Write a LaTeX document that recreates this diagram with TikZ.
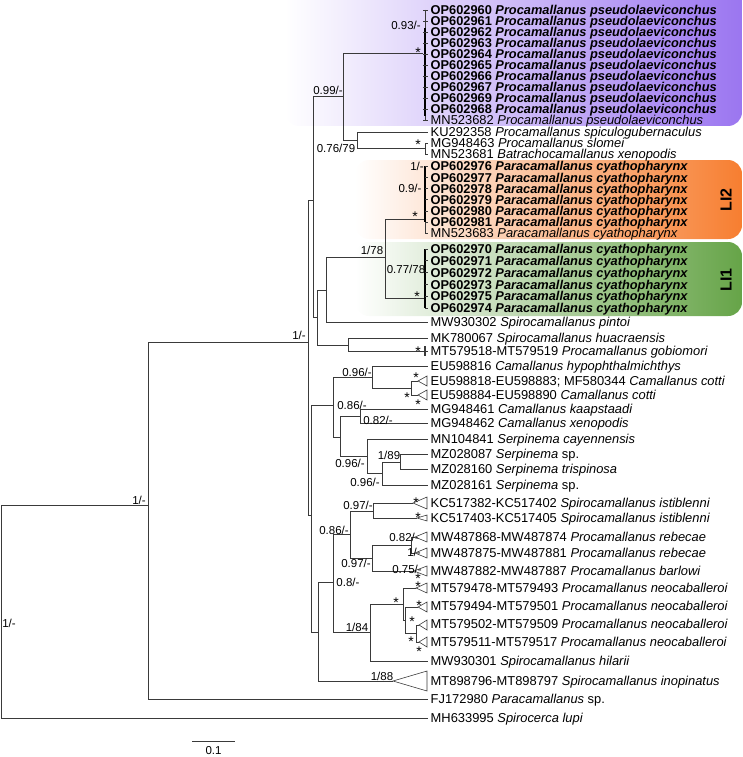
\documentclass[tikz,border=0pt]{standalone}
\usepackage{fontspec}
\setmainfont{Liberation Sans}
\usepackage{xcolor}
\usepackage{tikz}
\definecolor{purp}{RGB}{155,118,240}
\definecolor{orng}{RGB}{247,126,48}
\definecolor{grn}{RGB}{102,164,72}
\definecolor{branch}{RGB}{58,58,58}

\begin{document}
\begin{tikzpicture}[x=1pt,y=-1pt,
  br/.style={draw=branch,line width=0.85pt},
  bar/.style={draw=black,line width=2.4pt},
  tip/.style={anchor=west,inner xsep=2.5pt,inner ysep=0pt,text height=9.2pt,text depth=0pt,font=\fontsize{12.9}{13}\selectfont},
  tipb/.style={tip,font=\fontsize{12.8}{13}\selectfont\bfseries},
  sup/.style={inner sep=0pt,font=\fontsize{11.5}{12}\selectfont},
  ast/.style={inner sep=0pt,yshift=-1.5pt,font=\fontsize{14}{14}\selectfont},
  band/.style={rounded corners=14pt,left color=white},
  lilab/.style={rotate=90,inner sep=0pt,font=\fontsize{16}{16}\selectfont\bfseries}]
\useasboundingbox (0,0) rectangle (742,757);

% coloured bands
\shade[band,right color=purp] (285,-14) rectangle (742,126);
\shade[band,right color=orng] (355,160) rectangle (742,239);
\shade[band,right color=grn] (355,242) rectangle (742,316);
\node[lilab] (li2) at (726,200) {LI2};
\node[lilab] (li1) at (726,280) {LI1};

% internal nodes
\coordinate (root) at (1,612);
\coordinate (nA) at (148,505);
\coordinate (nB) at (308,342);
\coordinate (nC) at (313,200);
\coordinate (nP) at (343,96);
\coordinate (nQ) at (423,53);
\coordinate (nK) at (357,140);
\coordinate (nM) at (425,148);
\coordinate (nD) at (317,317);
\coordinate (nE) at (326,290);
\coordinate (nL) at (385,257);
\coordinate (nL2) at (425,219);
\coordinate (nL1) at (425,298);
\coordinate (nH) at (348,345);
\coordinate (nG) at (425,351);
\coordinate (nF) at (311,515);
\coordinate (nS) at (333,405);
\coordinate (nT) at (372,377);
\coordinate (nU) at (411,388);
\coordinate (nV) at (340,437);
\coordinate (nW) at (360,416);
\coordinate (nX) at (367,456);
\coordinate (nY) at (382,473);
\coordinate (nZ) at (400,462);
\coordinate (nO) at (318,632);
\coordinate (nR) at (333,582);
\coordinate (nI) at (350,534);
\coordinate (nJ) at (373,511);
\coordinate (nN) at (372,558);
\coordinate (nRb) at (411,545);
\coordinate (nCa) at (370,632);
\coordinate (nCb) at (403,604);
\coordinate (nCc) at (405,620);
\coordinate (nCd) at (416,633);
% apices of collapsed clades
\coordinate (cot1) at (418,381);
\coordinate (cot2) at (418,395);
\coordinate (ist1) at (413,503);
\coordinate (ist2) at (417,518);
\coordinate (reb1) at (415,537);
\coordinate (reb2) at (415,553);
\coordinate (barl) at (414,571);
\coordinate (neo1) at (416,588);
\coordinate (neo2) at (418,607);
\coordinate (neo3) at (419,625);
\coordinate (neo4) at (419,642);
\coordinate (inop) at (393,681);

% tips
\foreach \acc [count=\k] in {OP602960,OP602961,OP602962,OP602963,OP602964,OP602965,OP602966,OP602967,OP602969,OP602968}
  \node[tipb] (p\k) at (428,{11*\k-1}) {\acc\ \textit{Procamallanus pseudolaeviconchus}};
\node[tip] (tPs) at (428,120) {MN523682 \textit{Procamallanus pseudolaeviconchus}};
\node[tip] (tSpi) at (428,132) {KU292358 \textit{Procamallanus spiculogubernaculus}};
\node[tip] (tSlo) at (428,143) {MG948463 \textit{Procamallanus slomei}};
\node[tip] (tBat) at (428,154) {MN523681 \textit{Batrachocamallanus xenopodis}};
\foreach \acc [count=\k] in {OP602976,OP602977,OP602978,OP602979,OP602980,OP602981}
  \node[tipb] (c\k) at (428,{155+11.2*\k}) {\acc\ \textit{Paracamallanus cyathopharynx}};
\node[tip] (tCy) at (428,233) {MN523683 \textit{Paracamallanus cyathopharynx}};
\foreach \acc [count=\k] in {OP602970,OP602971,OP602972,OP602973,OP602975,OP602974}
  \node[tipb] (d\k) at (428,{237.2+11.8*\k}) {\acc\ \textit{Paracamallanus cyathopharynx}};
\node[tip] (tPin) at (428,322) {MW930302 \textit{Spirocamallanus pintoi}};
\node[tip] (tHua) at (428,338) {MK780067 \textit{Spirocamallanus huacraensis}};
\node[tip] (tGob) at (428,351) {MT579518-MT579519 \textit{Procamallanus gobiomori}};
\node[tip] (tHyp) at (428,366) {EU598816 \textit{Camallanus hypophthalmichthys}};
\node[tip] (tCo1) at (428,381) {EU598818-EU598883; MF580344 \textit{Camallanus cotti}};
\node[tip] (tCo2) at (428,395) {EU598884-EU598890 \textit{Camallanus cotti}};
\node[tip] (tKaa) at (428,409) {MG948461 \textit{Camallanus kaapstaadi}};
\node[tip] (tXen) at (428,423) {MG948462 \textit{Camallanus xenopodis}};
\node[tip] (tCay) at (428,439) {MN104841 \textit{Serpinema cayennensis}};
\node[tip] (tSe1) at (428,454) {MZ028087 \textit{Serpinema} sp.};
\node[tip] (tTri) at (428,469) {MZ028160 \textit{Serpinema trispinosa}};
\node[tip] (tSe2) at (428,485) {MZ028161 \textit{Serpinema} sp.};
\node[tip] (tIs1) at (428,503) {KC517382-KC517402 \textit{Spirocamallanus istiblenni}};
\node[tip] (tIs2) at (428,518) {KC517403-KC517405 \textit{Spirocamallanus istiblenni}};
\node[tip] (tRe1) at (428,537) {MW487868-MW487874 \textit{Procamallanus rebecae}};
\node[tip] (tRe2) at (428,553) {MW487875-MW487881 \textit{Procamallanus rebecae}};
\node[tip] (tBar) at (428,571) {MW487882-MW487887 \textit{Procamallanus barlowi}};
\node[tip] (tNe1) at (428,588) {MT579478-MT579493 \textit{Procamallanus neocaballeroi}};
\node[tip] (tNe2) at (428,606) {MT579494-MT579501 \textit{Procamallanus neocaballeroi}};
\node[tip] (tNe3) at (428,624) {MT579502-MT579509 \textit{Procamallanus neocaballeroi}};
\node[tip] (tNe4) at (428,642) {MT579511-MT579517 \textit{Procamallanus neocaballeroi}};
\node[tip] (tHil) at (428,661) {MW930301 \textit{Spirocamallanus hilarii}};
\node[tip] (tIno) at (428,681) {MT898796-MT898797 \textit{Spirocamallanus inopinatus}};
\node[tip] (tPar) at (428,699) {FJ172980 \textit{Paracamallanus} sp.};
\node[tip] (tLup) at (428,718) {MH633995 \textit{Spirocerca lupi}};

% branches
\draw[br] (root) |- (nA);
\draw[br] (root) |- (tLup.west);
\draw[br] (nA) |- (nB);
\draw[br] (nA) |- (tPar.west);
\draw[br] (nB) |- (nC);
\draw[br] (nB) |- (nF);
\draw[br] (nC) |- (nP);
\draw[br] (nC) |- (nD);
\draw[br] (nP) |- (nQ);
\draw[br] (nP) |- (nK);
\draw[br] (nK) |- (tSpi.west);
\draw[br] (nK) |- (nM);
\draw[br] (nM) |- (tSlo.west);
\draw[br] (nM) |- (tBat.west);
\draw[br] (nD) |- (nE);
\draw[br] (nD) |- (nH);
\draw[br] (nE) |- (nL);
\draw[br] (nE) |- (tPin.west);
\draw[br] (nL) |- (nL2);
\draw[br] (nL) |- (nL1);
\draw[br] (nH) |- (tHua.west);
\draw[br] (nH) |- (nG);
\draw[br] (nG) -- (tGob.west);
\draw[br] (nF) |- (nS);
\draw[br] (nF) |- (nO);
\draw[br] (nS) |- (nT);
\draw[br] (nS) |- (nV);
\draw[br] (nT) |- (tHyp.west);
\draw[br] (nT) |- (nU);
\draw[br] (nU) |- (cot1);
\draw[br] (nU) |- (cot2);
\draw[br] (nV) |- (nW);
\draw[br] (nV) |- (nX);
\draw[br] (nW) |- (tKaa.west);
\draw[br] (nW) |- (tXen.west);
\draw[br] (nX) |- (tCay.west);
\draw[br] (nX) |- (nY);
\draw[br] (nY) |- (nZ);
\draw[br] (nY) |- (tSe2.west);
\draw[br] (nZ) |- (tSe1.west);
\draw[br] (nZ) |- (tTri.west);
\draw[br] (nO) |- (nR);
\draw[br] (nO) |- (inop);
\draw[br] (nR) |- (nI);
\draw[br] (nR) |- (nCa);
\draw[br] (nI) |- (nJ);
\draw[br] (nI) |- (nN);
\draw[br] (nJ) |- (ist1);
\draw[br] (nJ) |- (ist2);
\draw[br] (nN) |- (nRb);
\draw[br] (nN) |- (barl);
\draw[br] (nRb) |- (reb1);
\draw[br] (nRb) |- (reb2);
\draw[br] (nCa) |- (nCb);
\draw[br] (nCa) |- (tHil.west);
\draw[br] (nCb) |- (neo1);
\draw[br] (nCb) |- (nCc);
\draw[br] (nCc) |- (neo2);
\draw[br] (nCc) |- (nCd);
\draw[br] (nCd) |- (neo3);
\draw[br] (nCd) |- (neo4);

% collapsed clades
\foreach \c/\w/\h in {cot1/9/5,cot2/9/5,ist1/14/6,ist2/10/3,reb1/12/5,reb2/12/5,barl/13/5,neo1/11/5,neo2/9/5,neo3/8/5,neo4/8/5,inop/34/10}
  \draw[br,line width=0.6pt] (\c) -- ++(\w,-\h) -- ++(0,2*\h) -- cycle;

% fine tips
\draw[br] (425,10) -- (425,120);
\draw[bar] (425,28) -- (425,116);
\foreach \k in {1,...,10} \draw[br] (nQ |- p\k.west) -- (p\k.west);
\draw[br] (nQ |- tPs.west) -- (tPs.west);
\draw[br] (425,166) -- (425,233);
\draw[bar] (425,166) -- (425,222);
\foreach \k in {1,...,6} \draw[br] (nL2 |- c\k.west) -- (c\k.west);
\draw[br] (nL2 |- tCy.west) -- (tCy.west);
\draw[bar] (425,249) -- (425,308);
\foreach \k in {1,...,6} \draw[br] (nL1 |- d\k.west) -- (d\k.west);
\draw[br,line width=1.4pt] (425,346) -- (425,356);

% support values
\node[sup] (s1) at (406,25) {0.93/-};
\node[ast] (s2) at (418,51) {*};
\node[sup] (s3) at (328,90) {0.99/-};
\node[sup] (s4) at (336,148) {0.76/79};
\node[ast] (s5) at (418,143) {*};
\node[sup] (s6) at (417,166) {1/-};
\node[sup] (s7) at (410,188) {0.9/-};
\node[ast] (s8) at (415,215) {*};
\node[sup] (s9) at (372,250) {1/78};
\node[sup] (s10) at (406,269) {0.77/78};
\node[ast] (s11) at (417,295) {*};
\node[sup] (s12) at (299,335) {1/-};
\node[sup] (s13) at (139,500) {1/-};
\node[sup] (s14) at (9,623) {1/-};
\node[ast] (s15) at (418,350) {*};
\node[sup] (s16) at (357,372) {0.96/-};
\node[ast] (s17) at (416,376) {*};
\node[ast] (s18) at (407,396) {*};
\node[ast] (s19) at (418,403) {*};
\node[sup] (s20) at (352,405) {0.86/-};
\node[sup] (s21) at (378,420) {0.82/-};
\node[sup] (s22) at (389,455) {1/89};
\node[sup] (s23) at (350,463) {0.96/-};
\node[sup] (s24) at (365,482) {0.96/-};
\node[sup] (s25) at (358,505) {0.97/-};
\node[ast] (s26) at (416,501) {*};
\node[ast] (s27) at (418,516) {*};
\node[sup] (s28) at (334,530) {0.86/-};
\node[sup] (s29) at (404,537) {0.82/-};
\node[sup] (s30) at (414,552) {1/-};
\node[sup] (s31) at (356,563) {0.97/-};
\node[sup] (s32) at (407,569) {0.75/-};
\node[ast] (s33) at (418,577) {*};
\node[ast] (s34) at (418,585) {*};
\node[sup] (s35) at (348,582) {0.8/-};
\node[ast] (s36) at (396,601) {*};
\node[ast] (s37) at (419,604) {*};
\node[ast] (s38) at (412,620) {*};
\node[sup] (s39) at (357,627) {1/84};
\node[ast] (s40) at (411,640) {*};
\node[ast] (s41) at (419,650) {*};
\node[sup] (s42) at (382,676) {1/88};

% scale bar
\coordinate (sbL) at (192,741);
\coordinate (sbR) at (235,741);
\draw[br] (sbL) -- (sbR);
\node[sup] (sbT) at (213.5,751) {0.1};
\end{tikzpicture}
\end{document}
